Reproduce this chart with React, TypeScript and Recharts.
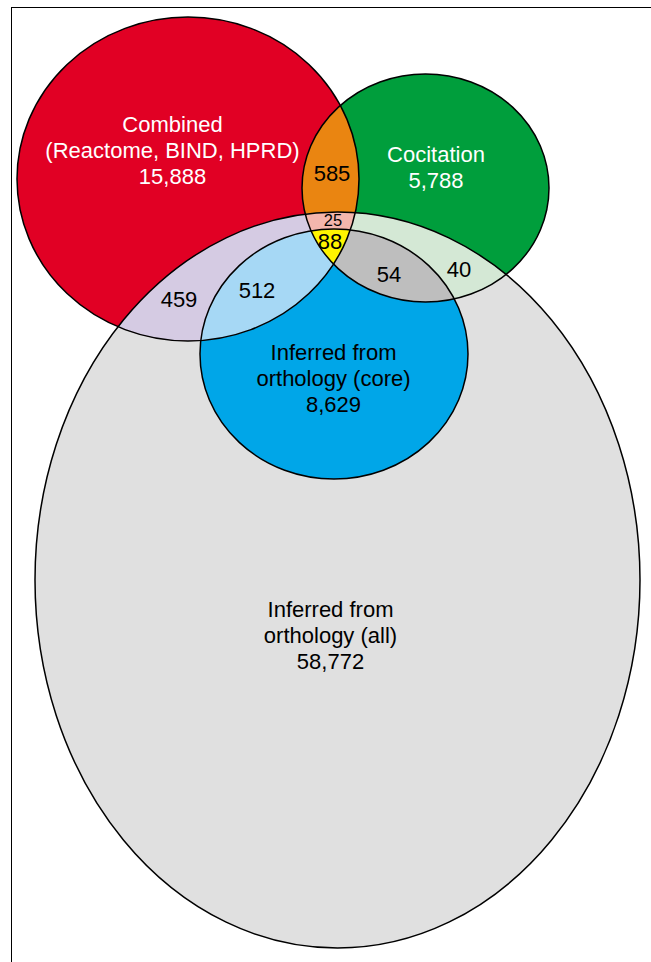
import React from 'react';
import { ScatterChart, Scatter, XAxis, YAxis } from 'recharts';

// ---------- data ----------
const SET_KEYS = ['R', 'C', 'K', 'A'];
const SET_NAMES = [
  ['Combined', '(Reactome, BIND, HPRD)'],
  ['Cocitation'],
  ['Inferred from', 'orthology (core)'],
  ['Inferred from', 'orthology (all)'],
];
const SET_COUNTS = [15888, 5788, 8629, 58772];

// overlap regions: set membership and counts
const REGION_SETS = [['R', 'C'], ['R', 'C', 'A'], ['R', 'C', 'K'], ['C', 'K'], ['C', 'A'], ['R', 'A'], ['R', 'K']];
const REGION_COUNTS = [585, 25, 88, 54, 40, 459, 512];

// ---------- layout (data units = pixels of the plot) ----------
const W = 651;
const H = 962;
const X_DOMAIN: [number, number] = [0, W];
const Y_DOMAIN: [number, number] = [0, H];
const SX = W / (X_DOMAIN[1] - X_DOMAIN[0]);
const SY = H / (Y_DOMAIN[1] - Y_DOMAIN[0]);

// ellipse geometry per set: centre x, centre y, radius x, radius y
const SET_CX = [188, 425.5, 334, 337.5];
const SET_CY = [179, 188, 354, 580];
const SET_RX = [171, 123.5, 134, 302.5];
const SET_RY = [162, 114, 125, 368];

// label anchors (first-line baseline)
const SET_LABEL_X = [172.5, 436, 333.5, 330.5];
const SET_LABEL_Y = [132, 162, 360, 617];
const REGION_LABEL_X = [332, 333, 330, 389, 459, 179, 257];
const REGION_LABEL_Y = [181, 225.5, 248.5, 282, 277, 307, 298];

// ---------- styles ----------
const SET_FILLS = ['#E10024', '#009E3C', '#00A6E8', '#E0E0E0'];
const SET_TEXT = ['#FFFFFF', '#FFFFFF', '#000000', '#000000'];
const REGION_FILLS = ['#EA8511', '#F4B6AD', '#FFF400', '#BEBEBE', '#D4E8D5', '#D5CBE3', '#A6D8F5'];
const REGION_FONT = [22, 16.5, 22, 22, 22, 22, 22];
const FONT = '"Liberation Sans", Arial, Helvetica, sans-serif';
const LINE_GAP = 26;

const fmt = (n: number) => n.toLocaleString('en-US');
const idx = (k: string) => SET_KEYS.indexOf(k);
const clipId = (k: string) => `venn-clip-${k}`;

const setPoint = (i: number) => ({ x: SET_CX[i], y: SET_CY[i], rx: SET_RX[i], ry: SET_RY[i], key: SET_KEYS[i] });

// paint order of the sets' base fills
const BASE_ORDER = ['A', 'K', 'R', 'C'];
// paint order of overlap regions (later overrides earlier)
const REGION_ORDER = [0, 5, 4, 1, 6, 3, 2];

// base set of each region = the set whose ellipse gets clipped by the others
const regionBase = (sets: string[]) => {
  if (sets.includes('K')) return 'K';
  if (sets.includes('A')) return 'A';
  return sets[0];
};

const baseShape = (fill: string) => (p: any) => {
  const rx = p.payload.rx * SX;
  const ry = p.payload.ry * SY;
  return (
    <g>
      <defs>
        <clipPath id={clipId(p.payload.key)}>
          <ellipse cx={p.cx} cy={p.cy} rx={rx} ry={ry} />
        </clipPath>
      </defs>
      <ellipse cx={p.cx} cy={p.cy} rx={rx} ry={ry} fill={fill} />
    </g>
  );
};

const regionShape = (clips: string[], fill: string) => (p: any) => {
  let el: React.ReactElement = (
    <ellipse cx={p.cx} cy={p.cy} rx={p.payload.rx * SX} ry={p.payload.ry * SY} fill={fill} />
  );
  clips.forEach((k) => {
    el = <g clipPath={`url(#${clipId(k)})`}>{el}</g>;
  });
  return el;
};

const outlineShape = (p: any) => (
  <ellipse
    cx={p.cx}
    cy={p.cy}
    rx={p.payload.rx * SX}
    ry={p.payload.ry * SY}
    fill="none"
    stroke="#000"
    strokeWidth={1.5}
  />
);

const textShape = (p: any) => (
  <text
    x={p.cx}
    y={p.cy}
    textAnchor="middle"
    fontFamily={FONT}
    fontSize={p.payload.size}
    fill={p.payload.color}
  >
    {p.payload.lines.map((l: string, i: number) => (
      <tspan key={i} x={p.cx} dy={i === 0 ? 0 : LINE_GAP}>
        {l}
      </tspan>
    ))}
  </text>
);

const setLabels = SET_KEYS.map((k, i) => ({
  x: SET_LABEL_X[i],
  y: SET_LABEL_Y[i],
  lines: [...SET_NAMES[i], fmt(SET_COUNTS[i])],
  color: SET_TEXT[i],
  size: 22,
}));

const regionLabels = REGION_COUNTS.map((c, i) => ({
  x: REGION_LABEL_X[i],
  y: REGION_LABEL_Y[i],
  lines: [fmt(c)],
  color: '#000',
  size: REGION_FONT[i],
}));

const outlinePoints = SET_KEYS.map((_, i) => setPoint(i));

export default function App() {
  return (
    <div style={{ position: 'absolute', left: 0, top: 0, width: W, height: H, background: '#fff' }}>
      <div
        style={{
          position: 'absolute',
          left: 11,
          top: 7,
          width: W - 11,
          height: H - 7,
          borderLeft: '1.4px solid #000',
          borderTop: '1.4px solid #000',
          boxSizing: 'border-box',
        }}
      />
      <div style={{ position: 'absolute', left: 0, top: 0 }}>
        <ScatterChart width={W} height={H} margin={{ top: 0, right: 0, bottom: 0, left: 0 }}>
          <XAxis type="number" dataKey="x" domain={X_DOMAIN} hide allowDataOverflow />
          <YAxis type="number" dataKey="y" domain={Y_DOMAIN} reversed hide allowDataOverflow />
          {BASE_ORDER.map((k) => {
            const i = idx(k);
            return (
              <Scatter
                key={`base-${k}`}
                data={[setPoint(i)]}
                shape={baseShape(SET_FILLS[i])}
                isAnimationActive={false}
              />
            );
          })}
          {REGION_ORDER.map((r) => {
            const sets = REGION_SETS[r];
            const base = regionBase(sets);
            const clips = sets.filter((s) => s !== base);
            return (
              <Scatter
                key={`region-${r}`}
                data={[setPoint(idx(base))]}
                shape={regionShape(clips, REGION_FILLS[r])}
                isAnimationActive={false}
              />
            );
          })}
          <Scatter data={outlinePoints} shape={outlineShape} isAnimationActive={false} />
          <Scatter data={[...setLabels, ...regionLabels]} shape={textShape} isAnimationActive={false} />
        </ScatterChart>
      </div>
    </div>
  );
}
